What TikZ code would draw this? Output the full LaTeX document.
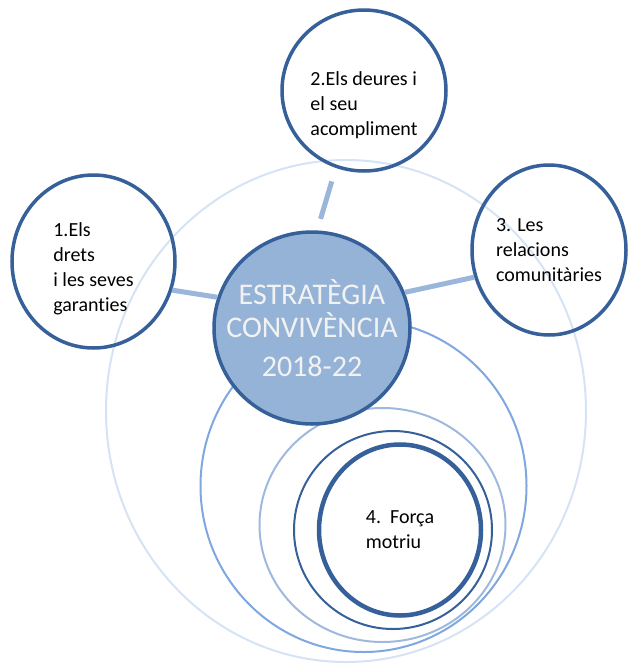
\documentclass[tikz,border=0pt]{standalone}
\usepackage{fontspec}
\setmainfont{Carlito}[Ligatures=NoCommon]
\usetikzlibrary{shapes.geometric}

\definecolor{ringdark}{HTML}{36609A}
\definecolor{corefill}{HTML}{95B3D7}
\definecolor{linkblue}{HTML}{9AB6DA}
\definecolor{ringfaint}{HTML}{D6E3F5}
\definecolor{ringmid}{HTML}{80A7E0}
\definecolor{ringpale}{HTML}{9FB9DE}
\definecolor{coretext}{HTML}{F2F2F2}

\tikzset{
  topic/.style={ellipse, draw=ringdark, line width=3.5pt, align=left, inner sep=0pt,
    font=\fontsize{20}{25}\selectfont},
  link/.style={line width=5pt, draw=linkblue},
  ring/.style={line width=2pt}
}

\begin{document}
\begin{tikzpicture}[x=1pt,y=-1pt]
\useasboundingbox (0,0) rectangle (631,664);

% rings round the fourth topic
\draw[ring, draw=ringfaint] (346,411) ellipse [x radius=240pt, y radius=251pt];
\draw[ring, draw=ringmid] (363.5,486) ellipse [x radius=163pt, y radius=166pt];
\draw[ring, draw=ringpale] (382.5,525) ellipse [x radius=123pt, y radius=117pt];
\draw[ring, draw=ringdark] (393,530) circle [radius=99pt];

\node[ellipse, draw=ringdark, fill=corefill, line width=3.5pt, inner sep=-20pt,
  minimum width=196pt, minimum height=192pt,
  align=center, text=coretext, font=\fontsize{30}{33}\selectfont] (core) at (312,328)
  {ESTRATÈGIA\\CONVIVÈNCIA\\[6pt]2018-22};

\node[topic, minimum width=163pt, minimum height=173pt, text height=103pt] (s1) at (93.5,261.5)
  {1.Els\\drets\\i les seves\\garanties};
\node[topic, minimum width=164pt, minimum height=161pt, text height=94pt] (s2) at (364,90.5)
  {2.Els deures i\\el seu\\acompliment};
\node[topic, minimum width=154pt, minimum height=170pt] (s3) at (549,250)
  {3. Les\\relacions\\comunitàries};
\node[topic, line width=4.5pt, minimum width=162pt, minimum height=171pt] (s4) at (400,530)
  {4.\ \ Força\\motriu};

\path[link] (core.162) -- (s1.-20);
\path[link, shorten <=12pt, shorten >=14pt] (core.87) -- (s2.-110);
\path[link] (core.21) -- (s3.200);
\end{tikzpicture}
\end{document}
